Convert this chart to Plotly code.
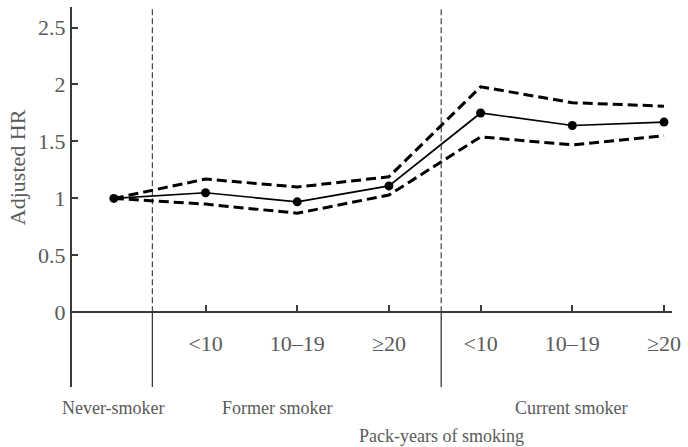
import plotly.graph_objects as go

# ---- data ----
positions = [0, 1, 2, 3, 4, 5, 6]
tick_labels = ["", "<10", "10–19", "≥20", "<10", "10–19", "≥20"]
hr = [1.00, 1.05, 0.97, 1.11, 1.75, 1.64, 1.67]
upper_ci = [1.00, 1.17, 1.10, 1.19, 1.98, 1.84, 1.81]
lower_ci = [1.00, 0.95, 0.87, 1.03, 1.54, 1.47, 1.55]
group_labels = ["Never-smoker", "Former smoker", "Current smoker"]
group_pos = [0, 1.78, 4.99]
dividers = [0.42, 3.57]
y_ticks = [0, 0.5, 1, 1.5, 2, 2.5]

# ---- layout geometry ----
W, H = 688, 447
ML, MR, MT, MB = 72, 14, 7, 60
ymin, ymax = -0.655, 2.680
xmin, xmax = -0.4565, 6.087

FONT = "Liberation Serif, Times New Roman, serif"
TXT = "#5a5a5a"
AX = "#3a3a3a"

fig = go.Figure()

fig.add_trace(go.Scatter(x=positions, y=upper_ci, mode="lines",
                         line=dict(color="black", width=3, dash="10px,5px"),
                         hoverinfo="skip", showlegend=False))
fig.add_trace(go.Scatter(x=positions, y=lower_ci, mode="lines",
                         line=dict(color="black", width=3, dash="10px,5px"),
                         hoverinfo="skip", showlegend=False))
fig.add_trace(go.Scatter(x=positions, y=hr, mode="lines+markers",
                         line=dict(color="black", width=1.7),
                         marker=dict(color="black", size=9),
                         showlegend=False))

shapes = []
for d in dividers:
    shapes.append(dict(type="line", xref="x", yref="y", x0=d, x1=d, y0=0, y1=ymax,
                       line=dict(color="#444", width=1.2, dash="6px,3px"), layer="below"))
    shapes.append(dict(type="line", xref="x", yref="y", x0=d, x1=d, y0=ymin, y1=0,
                       line=dict(color=AX, width=1.3), layer="below"))

plot_h = H - MT - MB
def py(px):
    return (H - MB - px) / plot_h

annotations = []
for lab, xp in zip(group_labels, group_pos):
    annotations.append(dict(text=lab, x=xp, xref="x", y=py(408), yref="paper",
                            showarrow=False, xanchor="center", yanchor="middle",
                            font=dict(family=FONT, size=18, color=TXT)))
annotations.append(dict(text="Pack-years of smoking", x=3.57, xref="x", y=py(436), yref="paper",
                        showarrow=False, xanchor="center", yanchor="middle",
                        font=dict(family=FONT, size=18, color=TXT)))
annotations.append(dict(text="Adjusted HR", x=(18 - ML) / (W - ML - MR), xref="paper",
                        y=1.276, yref="y", textangle=-90, showarrow=False,
                        xanchor="center", yanchor="middle",
                        font=dict(family=FONT, size=22, color=TXT)))

fig.update_layout(
    width=W, height=H,
    margin=dict(l=ML, r=MR, t=MT, b=MB, pad=0),
    paper_bgcolor="white", plot_bgcolor="white",
    font=dict(family=FONT, size=18, color=TXT),
    shapes=shapes, annotations=annotations,
    xaxis=dict(range=[xmin, xmax], anchor="free",
               position=(0 - ymin) / (ymax - ymin),
               showline=False, showgrid=False, zeroline=False,
               tickmode="array", tickvals=positions[1:], ticktext=tick_labels[1:],
               ticks="inside", ticklen=7, tickwidth=1.5, tickcolor=AX,
               ticklabelstandoff=16,
               tickfont=dict(family=FONT, size=22, color=TXT)),
    yaxis=dict(range=[ymin, ymax], showgrid=False,
               showline=True, linecolor=AX, linewidth=2,
               zeroline=True, zerolinecolor=AX, zerolinewidth=1.5,
               tickmode="array", tickvals=y_ticks,
               ticktext=[("%g" % v) for v in y_ticks],
               ticks="inside", ticklen=6, tickwidth=1.5, tickcolor=AX,
               tickfont=dict(family=FONT, size=22, color=TXT)),
)

fig.write_html("out.html", config={"displayModeBar": False},
               post_script="document.body.style.margin='0';")
